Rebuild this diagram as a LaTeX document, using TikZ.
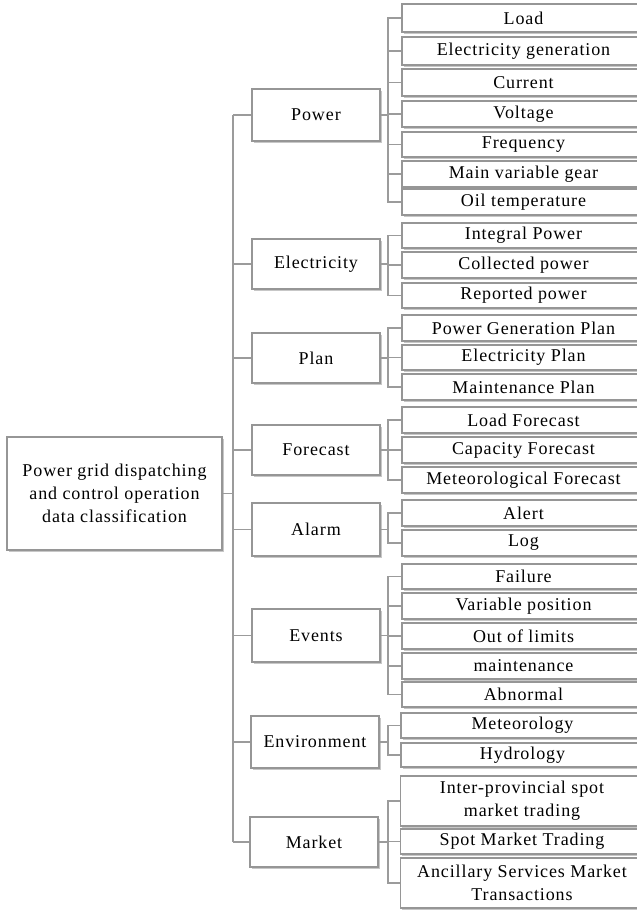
\documentclass[tikz,border=0pt]{standalone}
\usepackage{fontspec}
\setmainfont{Liberation Serif}[LetterSpace=5]
\usetikzlibrary{shadows}

\definecolor{edgegray}{RGB}{150,150,150}
\definecolor{linkgray}{RGB}{155,155,155}

\tikzset{
  box/.style={rectangle, draw=edgegray, line width=1.2pt, fill=white,
    inner sep=0pt, align=center, text=black,
    font=\fontsize{18}{23}\selectfont,
    drop shadow={shadow xshift=1.5pt, shadow yshift=-1.8pt, opacity=0.22, fill=black}},
  midbox/.style={box, minimum width=128, minimum height=#1},
  leafbox/.style={box, minimum width=243, minimum height=#1},
  link/.style={draw=linkgray, line width=1.2pt},
}

\begin{document}
\begin{tikzpicture}[x=1pt, y=-1pt]
  \useasboundingbox (0,0) rectangle (637,910);

  % root
  \node[box, minimum width=215, minimum height=113] (root) at (114.5,493.5)
    {Power grid dispatching\\and control operation\\data classification};
  \coordinate (trunk) at (233,0);
  \coordinate (fork) at (388,0);

  % categories
  \node[midbox=52] (power)   at (316,115)   {Power};
  \node[midbox=50] (elec)    at (316,264)   {Electricity};
  \node[midbox=50] (plan)    at (316,358)   {Plan};
  \node[midbox=50] (fcst)    at (316,450)   {Forecast};
  \node[midbox=53] (alarm)   at (316,529.5) {Alarm};
  \node[midbox=53] (events)  at (316,635.5) {Events};
  \node[midbox=52] (env)     at (315,742)   {Environment};
  \node[midbox=50] (market)  at (314,842)   {Market};

  % leaves: Power
  \node[leafbox=28] (p1) at (523.5,18)  {Load};
  \node[leafbox=28] (p2) at (523.5,51)  {Electricity generation};
  \node[leafbox=27] (p3) at (523.5,82.5) {Current};
  \node[leafbox=26] (p4) at (523.5,114) {Voltage};
  \node[leafbox=25] (p5) at (523.5,144.5) {Frequency};
  \node[leafbox=26] (p6) at (523.5,174) {Main variable gear};
  \node[leafbox=26] (p7) at (523.5,202) {Oil temperature};
  % leaves: Electricity
  \node[leafbox=25] (e1) at (523.5,235.5) {Integral Power};
  \node[leafbox=26] (e2) at (523.5,265)   {Collected power};
  \node[leafbox=25] (e3) at (523.5,295.5) {Reported power};
  % leaves: Plan
  \node[leafbox=26] (l1) at (523.5,328)   {Power Generation Plan};
  \node[leafbox=25] (l2) at (523.5,357.5) {Electricity Plan};
  \node[leafbox=26] (l3) at (523.5,387)   {Maintenance Plan};
  % leaves: Forecast
  \node[leafbox=26] (f1) at (523.5,420)   {Load Forecast};
  \node[leafbox=26] (f2) at (523.5,450)   {Capacity Forecast};
  \node[leafbox=26] (f3) at (523.5,480)   {Meteorological Forecast};
  % leaves: Alarm
  \node[leafbox=26] (a1) at (523.5,513)   {Alert};
  \node[leafbox=26] (a2) at (523.5,543)   {Log};
  % leaves: Events
  \node[leafbox=25] (v1) at (523.5,576.5) {Failure};
  \node[leafbox=26] (v2) at (523.5,606)   {Variable position};
  \node[leafbox=26] (v3) at (523.5,636)   {Out of limits};
  \node[leafbox=26] (v4) at (523.5,666)   {maintenance};
  \node[leafbox=25] (v5) at (523.5,694.5) {Abnormal};
  % leaves: Environment
  \node[leafbox=25] (n1) at (522.5,725.5) {Meteorology};
  \node[leafbox=24] (n2) at (522.5,755)   {Hydrology};
  % leaves: Market
  \node[leafbox=50] (m1) at (522,801)   {Inter-provincial spot\\market trading};
  \node[leafbox=25] (m2) at (522,841.5) {Spot Market Trading};
  \node[leafbox=50] (m3) at (522,883)   {Ancillary Services Market\\Transactions};

  % trunk from the root to every category
  \draw[link] (root.east) -- (trunk |- root.east);
  \draw[link] (trunk |- power.west) -- (trunk |- market.west);
  \foreach \c in {power,elec,plan,fcst,alarm,events,env,market}
    \draw[link] (trunk |- \c.west) -- (\c.west);

  % brackets from each category to its items
  \foreach \c/\items in {power/{p1,p2,p3,p4,p5,p6,p7}, elec/{e1,e2,e3},
      plan/{l1,l2,l3}, fcst/{f1,f2,f3}, alarm/{a1,a2},
      events/{v1,v2,v3,v4,v5}, env/{n1,n2}, market/{m1,m2,m3}}
    \foreach \i in \items
      \draw[link] (\c.east) -- (fork |- \c.east) |- (\i.west);
\end{tikzpicture}
\end{document}
